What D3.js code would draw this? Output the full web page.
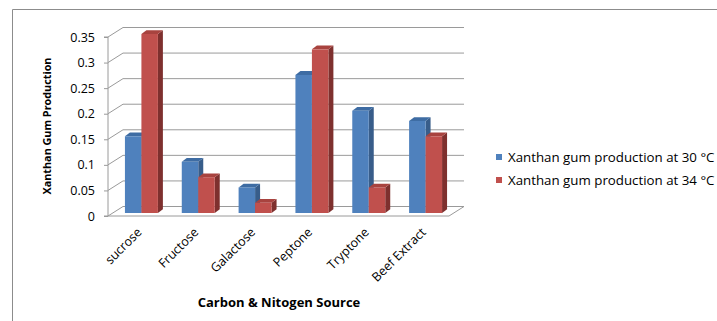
<!DOCTYPE html>
<html>
<head>
<meta charset="utf-8">
<script src="https://cdn.jsdelivr.net/npm/d3@7"></script>
<style>
  html, body { margin: 0; padding: 0; background: #fff; }
  svg { display: block; }
  text { font-family: "Open Sans", "Liberation Sans", sans-serif; fill: #000; }
</style>
</head>
<body>
<svg id="chart" width="717" height="321"></svg>
<script>
// Carbon & nitrogen sources tested
const categories = ["sucrose", "Fructose", "Galactose", "Peptone", "Tryptone", "Beef Extract"];
// Xanthan gum production for each source
const series30 = [0.15, 0.10, 0.05, 0.27, 0.20, 0.18];
const series34 = [0.35, 0.07, 0.02, 0.32, 0.05, 0.15];
const seriesNames = ["Xanthan gum production at 30 °C", "Xanthan gum production at 34 °C"];
const yTicks = [0, 0.05, 0.1, 0.15, 0.2, 0.25, 0.3, 0.35];

const svg = d3.select("#chart");

// colours: front / top / side faces
const palette = [
  { front: "#4F81BD", top: "#3E6CA3", side: "#385D8A" },
  { front: "#C0504D", top: "#A8433F", side: "#7E302E" }
];

// plot geometry (front plane) and 3D depth offsets
const x0 = 108, x1 = 449;
const wallDx = 15, wallDy = -9.5;      // depth of the back wall
const barDx = 5, barDy = -3;           // bar front plane offset from axis plane
const barDepthX = 5, barDepthY = -3.8; // bar thickness

const y = d3.scaleLinear().domain([0, 0.35]).range([216, 37]);
const xCat = d3.scaleBand().domain(categories).range([x0, x1]).paddingInner(0.42).paddingOuter(0.21);
const xSer = d3.scaleBand().domain([0, 1]).range([0, xCat.bandwidth()]);

// outer frame (top and left edges)
svg.append("path")
  .attr("d", "M12.5,321 L12.5,9.5 L717,9.5")
  .attr("fill", "none").attr("stroke", "#8c8c8c").attr("stroke-width", 1);

const grid = svg.append("g").attr("stroke", "#9a9a9a").attr("stroke-width", 1).attr("fill", "none");

// back wall gridlines
grid.selectAll("line.back").data(yTicks).join("line")
  .attr("x1", x0 + wallDx).attr("x2", x1 + wallDx)
  .attr("y1", d => y(d) + wallDy).attr("y2", d => y(d) + wallDy);

// side wall diagonals
grid.selectAll("line.side").data(yTicks).join("line")
  .attr("x1", x0).attr("x2", x0 + wallDx)
  .attr("y1", d => y(d)).attr("y2", d => y(d) + wallDy);

// floor front edge and right diagonal
grid.append("path")
  .attr("d", `M${x0},${y(0)} L${x1},${y(0)} L${x1 + wallDx},${y(0) + wallDy}`);

// value axis
const yAxis = d3.axisLeft(y).tickValues(yTicks).tickSize(4).tickPadding(9)
  .tickFormat(d => String(+d.toFixed(2)));
const yg = svg.append("g").attr("transform", `translate(${x0},0)`).call(yAxis);
yg.select(".domain").attr("stroke", "#9a9a9a").attr("d", `M-4,${y(0.35)}H0V${y(0)}H-4`);
yg.selectAll(".tick line").attr("stroke", "#9a9a9a");
yg.selectAll(".tick text").attr("font-size", 12.5).attr("font-family", "Open Sans").attr("fill", "#000");

// bars
const rows = categories.map((c, i) => ({ cat: c, vals: [series30[i], series34[i]] }));
const groups = svg.append("g").selectAll("g").data(rows).join("g")
  .attr("transform", d => `translate(${xCat(d.cat) + barDx},${barDy})`);

groups.each(function(d) {
  const g = d3.select(this);
  d.vals.forEach((v, s) => {
    const bx = xSer(s), bw = xSer.bandwidth();
    const top = y(v), base = y(0);
    const c = palette[s];
    // side face
    g.append("path").attr("fill", c.side)
      .attr("d", `M${bx + bw},${base} L${bx + bw + barDepthX},${base + barDepthY} L${bx + bw + barDepthX},${top + barDepthY} L${bx + bw},${top} Z`);
    // top face
    g.append("path").attr("fill", c.top)
      .attr("d", `M${bx},${top} L${bx + barDepthX},${top + barDepthY} L${bx + bw + barDepthX},${top + barDepthY} L${bx + bw},${top} Z`);
    // front face
    g.append("rect").attr("fill", c.front)
      .attr("x", bx).attr("y", top).attr("width", bw).attr("height", base - top);
  });
});

// category labels
svg.append("g").selectAll("text").data(categories).join("text")
  .attr("transform", d => `translate(${xCat(d) + xCat.bandwidth() / 2 + 6},${233}) rotate(-45)`)
  .attr("text-anchor", "end")
  .attr("font-size", 12.5)
  .text(d => d);

// axis titles
svg.append("text")
  .attr("transform", "translate(51,126) rotate(-90)")
  .attr("text-anchor", "middle").attr("font-weight", "bold").attr("font-size", 10.8)
  .text("Xanthan Gum Production");

svg.append("text")
  .attr("x", 279).attr("y", 307)
  .attr("text-anchor", "middle").attr("font-weight", "bold").attr("font-size", 13)
  .text("Carbon & Nitogen Source");

// legend
const legend = svg.append("g").selectAll("g").data(seriesNames).join("g")
  .attr("transform", (d, i) => `translate(496,${157 + i * 23})`);
legend.append("rect").attr("x", 0).attr("y", -3).attr("width", 6).attr("height", 6)
  .attr("fill", (d, i) => palette[i].front);
legend.append("text").attr("x", 12).attr("y", 4.5).attr("font-size", 13.3).text(d => d);
</script>
</body>
</html>
